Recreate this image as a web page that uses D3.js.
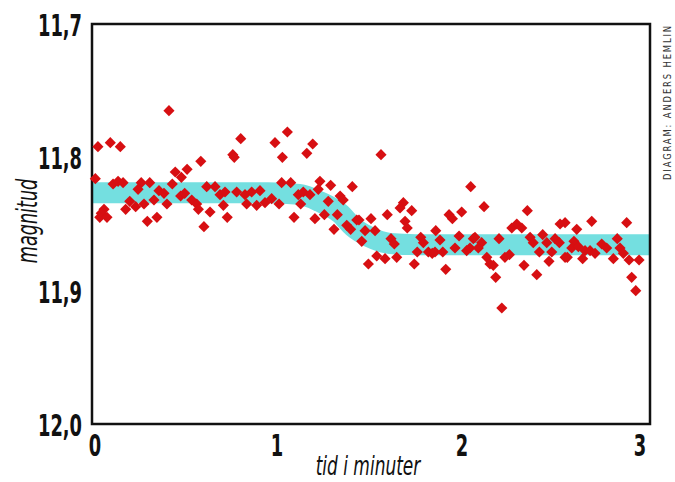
<!DOCTYPE html>
<html>
<head>
<meta charset="utf-8">
<script src="https://cdn.jsdelivr.net/npm/d3@7"></script>
<style>
html,body{margin:0;padding:0;background:#fff;}
svg{display:block;}
</style>
</head>
<body>
<svg id="chart" width="675" height="482"></svg>
<script>
// ---- data ----
const timeMin = [
0.416,0.032,0.099,0.153,0.018,0.114,0.141,0.168,0.266,0.312,0.249,0.362,0.389,0.434,0.450,0.483,0.514,0.479,0.501,0.204,
0.236,0.182,0.281,0.335,0.405,0.065,0.050,0.042,0.081,0.299,0.351,
0.804,0.761,0.769,0.588,0.989,1.029,0.620,0.665,0.692,0.719,0.782,0.827,0.863,0.908,0.539,0.566,0.575,0.638,0.710,
0.836,0.890,0.935,0.971,1.011,0.731,0.605,1.025,
1.056,1.193,1.161,1.074,1.232,1.290,1.407,1.115,1.142,1.178,1.223,1.128,1.092,1.205,1.256,1.277,1.341,1.358,1.326,1.308,
1.377,1.398,1.431,1.443,1.508,1.476,1.530,1.458,1.539,1.494,
1.562,2.047,1.683,1.665,1.728,1.596,1.930,1.948,1.998,1.692,1.704,1.858,1.616,1.634,1.777,1.791,1.881,1.984,2.061,1.962,
2.025,2.043,1.758,1.818,1.839,1.854,1.896,1.584,1.647,1.742,1.912,
2.119,2.353,2.269,2.296,2.323,2.530,2.070,2.106,2.088,2.200,2.368,2.385,2.436,2.458,2.503,2.526,2.418,2.485,2.232,2.256,
2.134,2.151,2.169,2.470,2.335,2.404,2.182,2.215,2.557,
2.557,2.701,2.890,2.620,2.605,2.593,2.629,2.665,2.692,2.719,2.755,2.782,2.839,2.854,2.872,2.569,2.652,2.818,2.903,2.957,
2.917,2.939
];
const magnitude = [
11.765,11.792,11.789,11.792,11.816,11.820,11.818,11.819,11.819,11.819,11.824,11.825,11.827,11.820,11.811,11.815,11.809,11.829,11.827,11.833,
11.837,11.839,11.835,11.832,11.835,11.839,11.842,11.845,11.845,11.848,11.845,
11.786,11.798,11.800,11.803,11.789,11.800,11.822,11.822,11.828,11.826,11.826,11.828,11.826,11.825,11.832,11.835,11.839,11.841,11.836,
11.835,11.836,11.834,11.831,11.835,11.845,11.852,11.819,
11.781,11.790,11.797,11.819,11.818,11.821,11.822,11.828,11.826,11.828,11.824,11.835,11.845,11.846,11.843,11.833,11.829,11.832,11.843,11.854,
11.851,11.854,11.847,11.847,11.846,11.855,11.855,11.863,11.874,11.880,
11.798,11.822,11.834,11.838,11.840,11.843,11.843,11.846,11.841,11.848,11.853,11.855,11.861,11.865,11.860,11.864,11.862,11.859,11.861,11.868,
11.870,11.868,11.871,11.871,11.872,11.871,11.871,11.876,11.875,11.880,11.884,
11.837,11.840,11.853,11.850,11.853,11.850,11.860,11.864,11.868,11.861,11.860,11.864,11.858,11.864,11.861,11.864,11.871,11.871,11.875,11.873,
11.875,11.880,11.881,11.878,11.881,11.888,11.890,11.913,11.875,
11.849,11.848,11.849,11.854,11.863,11.868,11.867,11.870,11.870,11.872,11.865,11.868,11.861,11.868,11.872,11.875,11.876,11.876,11.877,11.877,
11.890,11.900
];
// smoothed light curve (band)
const bandTime = [0, 0.95, 1.12, 1.23, 1.34, 1.41, 1.50, 1.61, 1.75, 3.016];
const bandMag  = [11.8266, 11.8266, 11.8278, 11.8332, 11.8420, 11.8520, 11.8598, 11.8646, 11.8655, 11.8655];
const xTicks = [0, 1, 2, 3];
const yTicks = [11.7, 11.8, 11.9, 12.0];
const xTitle = "tid i minuter";
const yTitle = "magnitud";
const credit = "DIAGRAM: ANDERS HEMLIN";

// ---- drawing ----
const svg = d3.select("#chart");
const L = 92, R = 650, T = 24, B = 424;
const x = d3.scaleLinear().domain([0, 3.016]).range([L, R]);
const y = d3.scaleLinear().domain([11.7, 12.0]).range([T, B]);
const condensed = "'Liberation Sans Narrow','Arial Narrow','DejaVu Sans Condensed',sans-serif";
const SX = 0.64;

// band
svg.append("clipPath").attr("id","clip").append("rect")
  .attr("x", L).attr("y", T).attr("width", R - L).attr("height", B - T);
const bandData = bandTime.map((t,i)=>[t, bandMag[i]]);
svg.append("path")
  .datum(bandData)
  .attr("clip-path","url(#clip)")
  .attr("d", d3.line().x(d=>x(d[0])).y(d=>y(d[1])).curve(d3.curveMonotoneX))
  .attr("fill","none")
  .attr("stroke","#74dfe0")
  .attr("stroke-width",21);

// frame
svg.append("rect")
  .attr("x", L).attr("y", T).attr("width", R - L).attr("height", B - T)
  .attr("fill","none").attr("stroke","#111").attr("stroke-width",2.5);

// axes
const yAxis = svg.append("g").attr("transform",`translate(${L},0)`)
  .call(d3.axisLeft(y).tickValues(yTicks).tickSize(0).tickFormat(d=>d3.format(".1f")(d).replace(".",",")));
yAxis.select(".domain").remove();
yAxis.selectAll("text")
  .attr("x", -10 / SX).attr("dy","0.37em")
  .attr("transform",`scale(${SX},1)`)
  .style("font-family", condensed).style("font-weight","bold")
  .style("font-size","31px").attr("fill","#111");

const xAxis = svg.append("g").attr("transform",`translate(0,${B})`)
  .call(d3.axisBottom(x).tickValues(xTicks).tickSize(0).tickFormat(d3.format("d")));
xAxis.select(".domain").remove();
xAxis.selectAll(".tick").each(function(d){
  const g = d3.select(this);
  const px = x(d) + (d===0 ? 3 : (d===3 ? -7 : 0));
  g.attr("transform", `translate(${px},0)`);
  g.select("text").attr("y", 32).attr("dy", 0)
    .attr("transform",`scale(${SX},1)`)
    .style("font-family", condensed).style("font-weight","bold")
    .style("font-size","31px").attr("fill","#111");
});

// titles
svg.append("text")
  .attr("transform", `translate(368,475) scale(0.7,1)`)
  .attr("text-anchor","middle")
  .style("font-family", condensed).style("font-style","italic")
  .style("font-size","27px").attr("fill","#111")
  .text(xTitle);
svg.append("text")
  .attr("transform", `translate(37,221) rotate(-90) scale(0.7,1)`)
  .attr("text-anchor","middle")
  .style("font-family", condensed).style("font-style","italic")
  .style("font-size","28px").attr("fill","#111")
  .text(yTitle);
svg.append("text")
  .attr("transform", `translate(671,102) rotate(-90) scale(0.85,1)`)
  .attr("text-anchor","middle")
  .style("font-family", condensed)
  .style("font-size","11px").style("letter-spacing","2.2px").attr("fill","#333")
  .text(credit);

// points
const pts = timeMin.map((t,i)=>({t, m: magnitude[i]}));
svg.append("g").selectAll("path")
  .data(pts).join("path")
  .attr("d", d3.symbol().type(d3.symbolSquare).size(62))
  .attr("transform", d=>`translate(${x(d.t)},${y(d.m)}) rotate(45)`)
  .attr("fill","#d70f12");
</script>
</body>
</html>
